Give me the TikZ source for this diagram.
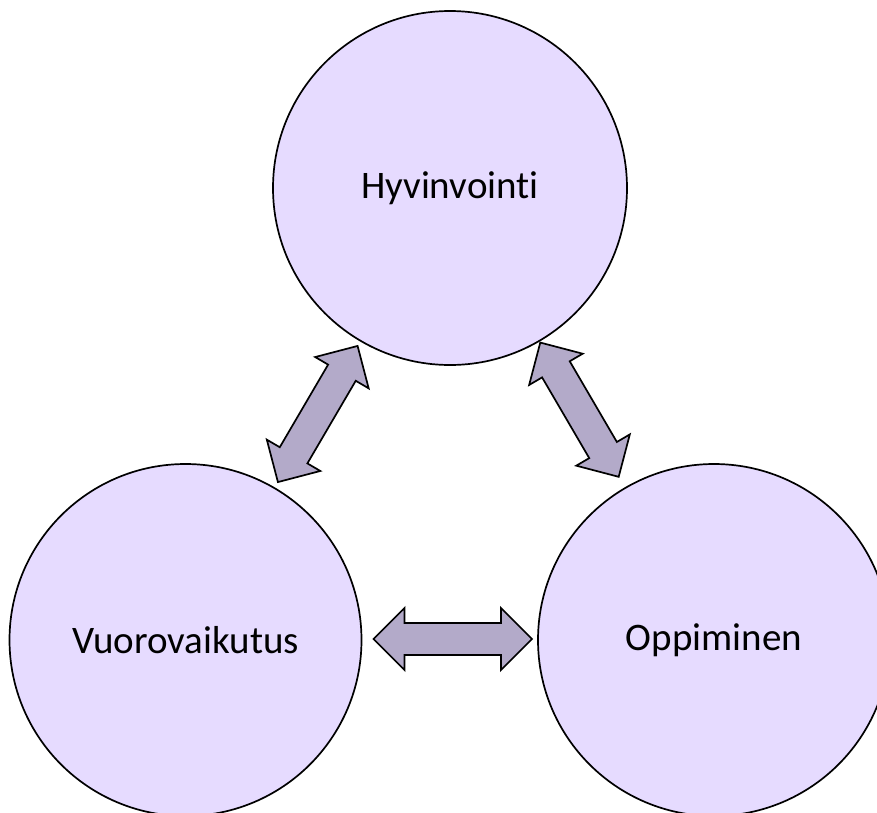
\documentclass[tikz,border=0pt]{standalone}
\usepackage{fontspec}
\setmainfont{Carlito}[Ligatures={NoCommon}]
\usetikzlibrary{calc}
\definecolor{circfill}{HTML}{E6DBFF}
\definecolor{arrfill}{HTML}{B3AAC9}
\tikzset{
  bubble/.style={circle, draw=black, line width=1.7pt, fill=circfill, inner sep=0pt,
    font=\fontsize{39}{47}\selectfont},
  blockarrow/.style={draw=black, line width=1.7pt, fill=arrfill, line join=miter},
}
\newcommand\dblarrow[2]{%
  \draw[blockarrow] (#1)
    -- ($($(#1)!31pt!(#2)$)!31pt!90:(#2)$)
    -- ($($(#1)!31pt!(#2)$)!16pt!90:(#2)$)
    -- ($($(#2)!31pt!(#1)$)!16pt!-90:(#1)$)
    -- ($($(#2)!31pt!(#1)$)!31pt!-90:(#1)$)
    -- (#2)
    -- ($($(#2)!31pt!(#1)$)!31pt!90:(#1)$)
    -- ($($(#2)!31pt!(#1)$)!16pt!90:(#1)$)
    -- ($($(#1)!31pt!(#2)$)!16pt!-90:(#2)$)
    -- ($($(#1)!31pt!(#2)$)!31pt!-90:(#2)$)
    -- cycle;}
\begin{document}
\begin{tikzpicture}[x=1pt,y=-1pt]
\useasboundingbox (0,0) rectangle (877,812);
\clip (0,0) rectangle (877,812);
\node[bubble, minimum size=354pt] (top) at (450,188) {Hyvinvointi};
\node[bubble, minimum size=352pt] (left) at (185.5,640) {Vuorovaikutus};
\node[bubble, minimum size=352pt] (right) at (714,640) {Oppiminen};
\coordinate (l1) at ($(top.center)!183pt!(left.center)$);
\coordinate (l2) at ($(left.center)!183pt!(top.center)$);
\coordinate (r1) at ($(top.center)!179pt!(right.center)$);
\coordinate (r2) at ($(right.center)!189pt!(top.center)$);
\coordinate (h1) at ($(left.center)+(188,-1)$);
\coordinate (h2) at ($(right.center)+(-182,-1)$);
\dblarrow{l1}{l2}
\dblarrow{r1}{r2}
\dblarrow{h1}{h2}
\end{tikzpicture}
\end{document}
